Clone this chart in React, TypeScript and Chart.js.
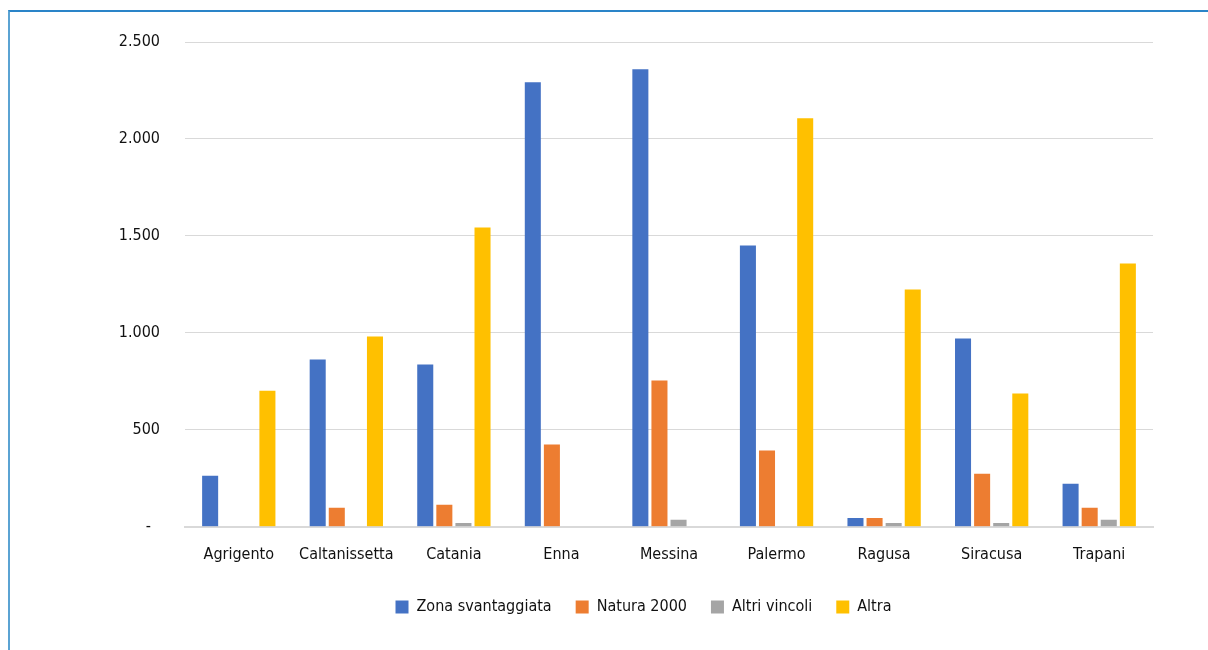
import React, { useEffect, useRef } from "react";
import { Chart, registerables } from "chart.js";

Chart.register(...registerables);

const categories = ["Agrigento", "Caltanissetta", "Catania", "Enna", "Messina", "Palermo", "Ragusa", "Siracusa", "Trapani"];
const zonaSvantaggiata = [263, 863, 837, 2293, 2360, 1451, 46, 971, 222];
const natura2000 = [0, 98, 114, 424, 754, 393, 46, 274, 98];
const altriVincoli = [0, 0, 20, 0, 36, 0, 20, 20, 36];
const altra = [702, 981, 1544, 0, 0, 2107, 1224, 687, 1358];
const yTicks = [0, 500, 1000, 1500, 2000, 2500];

const FONT = "'Liberation Sans Narrow', 'DejaVu Sans Condensed', 'Roboto Condensed', 'Open Sans', sans-serif";

const legendShift = {
  id: "legendShift",
  afterLayout(chart: any) {
    const lg = chart.legend;
    if (lg) {
      const w = lg.right - lg.left;
      lg.left = 67;
      lg.right = 67 + w;
    }
  },
};

export default function App() {
  const ref = useRef<HTMLCanvasElement | null>(null);
  useEffect(() => {
    document.body.style.overflow = "hidden";
    const ctx = ref.current!.getContext("2d")!;
    const fmt = (v: number) =>
      v === 0 ? "-  " : v.toLocaleString("it-IT").replace(/\u00a0/g, ".").replace(/,/g, ".");
    const chart = new Chart(ctx, {
      type: "bar",
      data: {
        labels: categories,
        datasets: [
          { label: "Zona svantaggiata", data: zonaSvantaggiata, backgroundColor: "#4472C4" },
          { label: "Natura 2000", data: natura2000, backgroundColor: "#ED7D31" },
          { label: "Altri vincoli", data: altriVincoli, backgroundColor: "#A5A5A5" },
          { label: "Altra", data: altra, backgroundColor: "#FFC000" },
        ],
      },
      plugins: [legendShift],
      options: {
        responsive: false,
        animation: false,
        datasets: { bar: { categoryPercentage: 0.71, barPercentage: 0.84 } },
        layout: { padding: { left: 0, right: 55, top: 42, bottom: 25 } },
        plugins: {
          tooltip: { enabled: false },
          legend: {
            position: "bottom",
            labels: {
              boxWidth: 13,
              boxHeight: 13,
              padding: 24,
              color: "#111",
              font: { family: FONT, size: 16 },
            },
          },
        },
        scales: {
          x: {
            afterFit: (s: any) => { s.height -= 7; },
            grid: { display: false, drawTicks: false },
            border: { display: true, color: "#d9d9d9", width: 2 },
            ticks: { color: "#111", padding: 18, maxRotation: 0, font: { family: FONT, size: 16 } },
          },
          y: {
            min: 0,
            max: 2500,
            afterFit: (s: any) => { s.width = 185; },
            afterBuildTicks: (s: any) => { s.ticks = yTicks.map((v) => ({ value: v })); },
            grid: { color: "#d9d9d9", lineWidth: 1, drawTicks: false },
            border: { display: false },
            ticks: {
              color: "#111",
              padding: 25,
              font: { family: FONT, size: 16 },
              callback: (v: any) => fmt(Number(v)),
            },
          },
        },
      },
    });
    return () => chart.destroy();
  }, []);
  return (
    <>
      <div style={{ position: "fixed", left: 0, top: 0, width: 1208, height: 650, background: "#fff" }}>
        <canvas ref={ref} width={1208} height={650} style={{ display: "block" }} />
      </div>
      <div
        style={{
          position: "fixed",
          left: 8,
          top: 10,
          width: 1300,
          height: 800,
          borderTop: "2px solid #2A84C8",
          borderLeft: "2px solid #5BA3D3",
          pointerEvents: "none",
        }}
      />
    </>
  );
}
